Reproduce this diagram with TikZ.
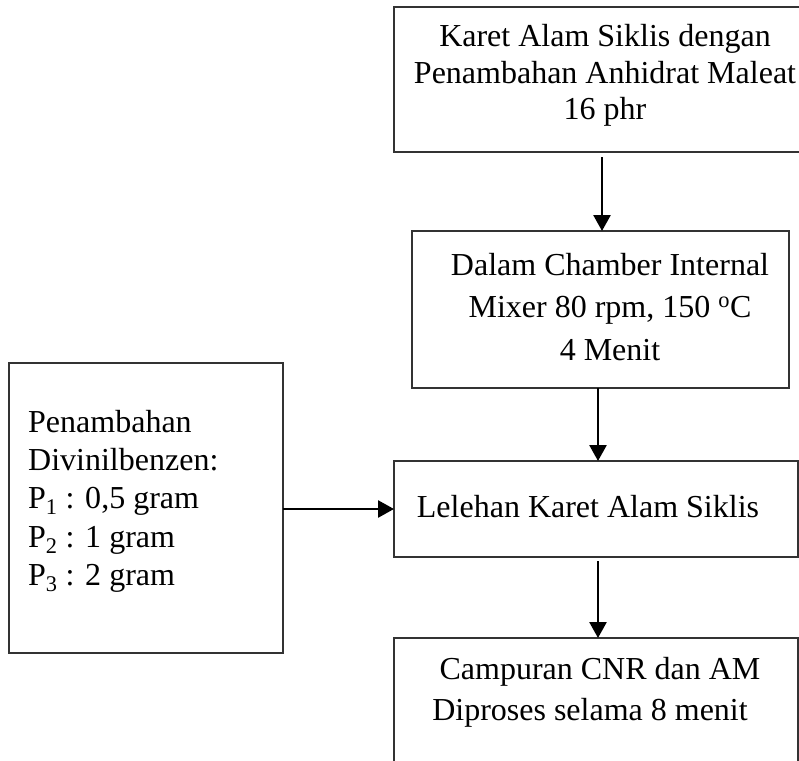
\documentclass[tikz,border=0pt]{standalone}
\usepackage{fontspec}
\setmainfont{Liberation Serif}
\usetikzlibrary{arrows.meta}
\begin{document}
\begin{tikzpicture}[x=1pt,y=-1pt,
  box/.style={draw=black!80,line width=1.4pt,inner sep=0pt,outer sep=0pt,anchor=north west},
  txt/.style={inner sep=0pt,font=\fontsize{32}{38}\selectfont},
  arr/.style={line width=2.6pt,-{Triangle[length=16pt,width=17pt]}}]
\useasboundingbox (0,0) rectangle (799,760);
% boxes
\node[box,minimum width=408pt,minimum height=145pt] (b1) at (394,7) {};
\node[box,minimum width=377pt,minimum height=157pt] (b2) at (412,231) {};
\node[box,minimum width=274pt,minimum height=290pt] (b3) at (9,363) {};
\node[box,minimum width=404pt,minimum height=96pt] (b4) at (394,461) {};
\node[box,minimum width=404pt,minimum height=140pt] (b5) at (394,638) {};
% texts
\node[txt,anchor=base] (t1a) at (605,47) {Karet Alam Siklis dengan};
\node[txt,anchor=base] (t1b) at (605,83) {Penambahan Anhidrat Maleat};
\node[txt,anchor=base] (t1c) at (605,119) {16 phr};
\node[txt,anchor=base] (t2a) at (610,275) {Dalam Chamber Internal};
\node[txt,anchor=base] (t2b) at (610,317) {Mixer 80 rpm, 150 \textsuperscript{o}C};
\node[txt,anchor=base] (t2c) at (610,360) {4 Menit};
\node[txt,anchor=base west] (t3a) at (28,432) {Penambahan};
\node[txt,anchor=base west] (t3b) at (28,470) {Divinilbenzen:};
\node[txt,anchor=base west] (t3c) at (28,508) {P\textsubscript{1} : 0,5 gram};
\node[txt,anchor=base west] (t3d) at (28,547) {P\textsubscript{2} : 1 gram};
\node[txt,anchor=base west] (t3e) at (28,585) {P\textsubscript{3} : 2 gram};
\node[txt,anchor=base] (t4) at (588,517) {Lelehan Karet Alam Siklis};
\node[txt,anchor=base] (t5a) at (600,679) {Campuran CNR dan AM};
\node[txt,anchor=base] (t5b) at (590,720) {Diproses selama 8 menit};
% connectors
\coordinate (c1) at (602,0);
\coordinate (c2) at (598,0);
\coordinate (c3) at (0,509);
\draw[arr] ([yshift=-5pt]b1.south -| c1) -- (b2.north -| c1);
\draw[arr] (b2.south -| c2) -- (b4.north -| c2);
\draw[arr] ([yshift=-4pt]b4.south -| c2) -- (b5.north -| c2);
\draw[arr] (b3.east |- c3) -- (b4.west |- c3);
\end{tikzpicture}
\end{document}
